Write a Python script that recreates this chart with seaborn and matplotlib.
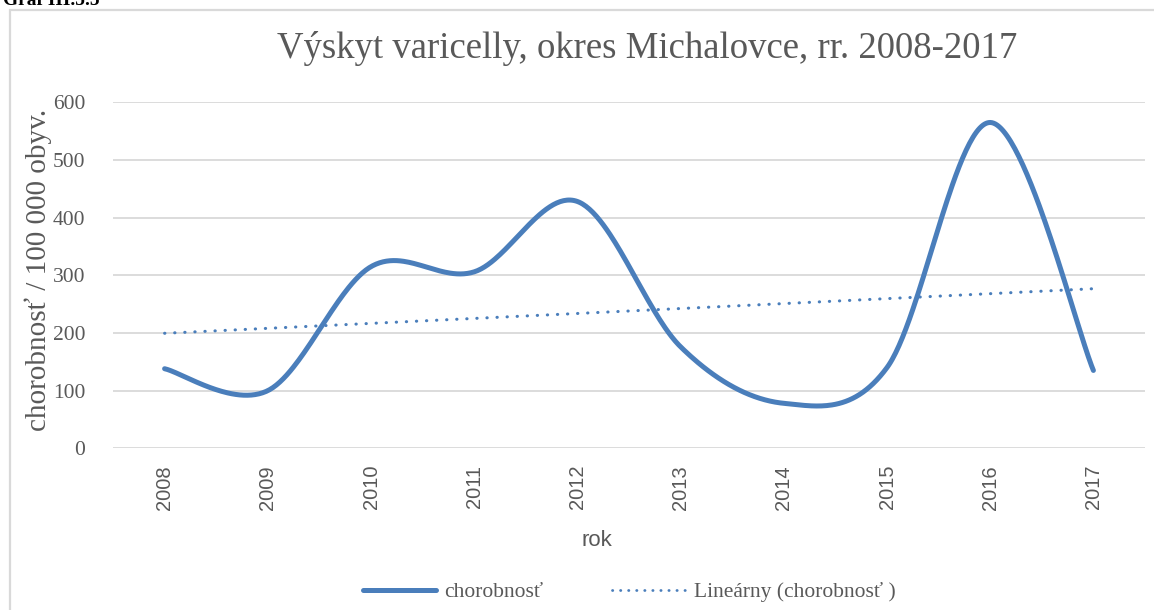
import numpy as np
import pandas as pd
import matplotlib
matplotlib.use("Agg")
import matplotlib.pyplot as plt
import seaborn as sns
from matplotlib.lines import Line2D
from matplotlib.patches import Rectangle

# ---- data ----
years = ["2008", "2009", "2010", "2011", "2012", "2013", "2014", "2015", "2016", "2017"]
chorobnost = [138, 100, 315, 306, 428, 176, 78, 140, 565, 135]
y_ticks = [0, 100, 200, 300, 400, 500, 600]

title = "Výskyt varicelly, okres Michalovce, rr. 2008-2017"
y_label = "chorobnosť / 100 000 obyv."
x_label = "rok"
series_label = "chorobnosť"
trend_label = "Lineárny (chorobnosť )"

BLUE = "#4A7EBB"
GRID = "#D9D9D9"
TXT = "#595959"

sns.set_theme(style="white")
plt.rcParams["font.family"] = ["Liberation Serif", "DejaVu Serif"]

# Excel-like smoothed line (Bezier through points, Catmull-Rom tangents)
def smooth(xs, ys, n=60):
    xs = np.asarray(xs, float); ys = np.asarray(ys, float)
    P = np.column_stack([xs, ys])
    out = []
    for i in range(len(P) - 1):
        p0 = P[i - 1] if i > 0 else P[i]
        p1 = P[i]; p2 = P[i + 1]
        p3 = P[i + 2] if i + 2 < len(P) else P[i + 1]
        c1 = p1 + (p2 - p0) / 6.0
        c2 = p2 - (p3 - p1) / 6.0
        t = np.linspace(0, 1, n, endpoint=(i == len(P) - 2))[:, None]
        seg = (1 - t) ** 3 * p1 + 3 * (1 - t) ** 2 * t * c1 + 3 * (1 - t) * t ** 2 * c2 + t ** 3 * p2
        out.append(seg)
    out = np.vstack(out)
    return out[:, 0], out[:, 1]

xi = np.arange(len(years))
sx, sy = smooth(xi, chorobnost)
smooth_df = pd.DataFrame({"x": sx, "y": sy})

coef = np.polyfit(xi, chorobnost, 1)
trend_df = pd.DataFrame({"x": xi, "y": np.polyval(coef, xi)})

fig = plt.figure(figsize=(11.54, 6.10), dpi=100)
ax = fig.add_axes([113 / 1154, 1 - 448.3 / 610, (1145 - 113) / 1154, (448.3 - 102.3) / 610])

sns.lineplot(data=smooth_df, x="x", y="y", ax=ax, color=BLUE, linewidth=3.6,
             solid_capstyle="round", sort=False, estimator=None)
sns.lineplot(data=trend_df, x="x", y="y", ax=ax, color=BLUE, linewidth=2.2,
             linestyle=(0, (0.1, 3.2)), dash_capstyle="round", estimator=None)

ax.set_xlim(-0.5, len(years) - 0.5)
ax.set_ylim(0, 600)
ax.set_yticks(y_ticks)
ax.set_yticklabels([str(v) for v in y_ticks], fontsize=15.5, color=TXT)
ax.set_xticks(xi)
ax.set_xticklabels(years, rotation=90, fontsize=14.5, color=TXT,
                   family=["Liberation Sans", "DejaVu Sans"])
ax.tick_params(axis="y", length=0, pad=20)
ax.tick_params(axis="x", length=0, pad=12)
ax.grid(axis="y", color=GRID, linewidth=1.3)
ax.set_axisbelow(True)
for s in ax.spines.values():
    s.set_visible(False)
ax.set_xlabel("")
ax.set_ylabel("")

fig.text(38 / 1154, 1 - 270 / 610, y_label, rotation=90, ha="center", va="center",
         fontsize=21, color=TXT)
fig.text(597 / 1154, 1 - 541 / 610, x_label, ha="center", va="center",
         fontsize=16, color=TXT, family=["Liberation Sans Narrow", "Liberation Sans", "DejaVu Sans"])
fig.text(647 / 1154, 1 - 48 / 610, title, ha="center", va="center",
         fontsize=26.5, color=TXT)

# partially visible caption at the very top (cut off in the reference too)
fig.text(3 / 1154, 1 - 5 / 610, "Graf III.5.5", ha="left", va="baseline",
         fontsize=14, fontweight="bold", color="black")

# chart frame
fig.patches.append(Rectangle((10 / 1154, -0.01), 1.0, 1 - 10 / 610 + 0.01,
                             transform=fig.transFigure, fill=False,
                             edgecolor=GRID, linewidth=1.6))

handles = [Line2D([], [], color=BLUE, linewidth=3.6, solid_capstyle="round"),
           Line2D([], [], color=BLUE, linewidth=2.0, linestyle=(0, (0.1, 2.8)),
                  dash_capstyle="round")]
fig.legend(handles, [series_label, trend_label + " "], loc="center",
           bbox_to_anchor=(632 / 1154, 1 - 592 / 610), ncol=2, frameon=False,
           fontsize=15.5, handlelength=3.4, columnspacing=3.2, handletextpad=0.4,
           labelcolor=TXT)

fig.savefig("out.png", dpi=100, facecolor="white")
